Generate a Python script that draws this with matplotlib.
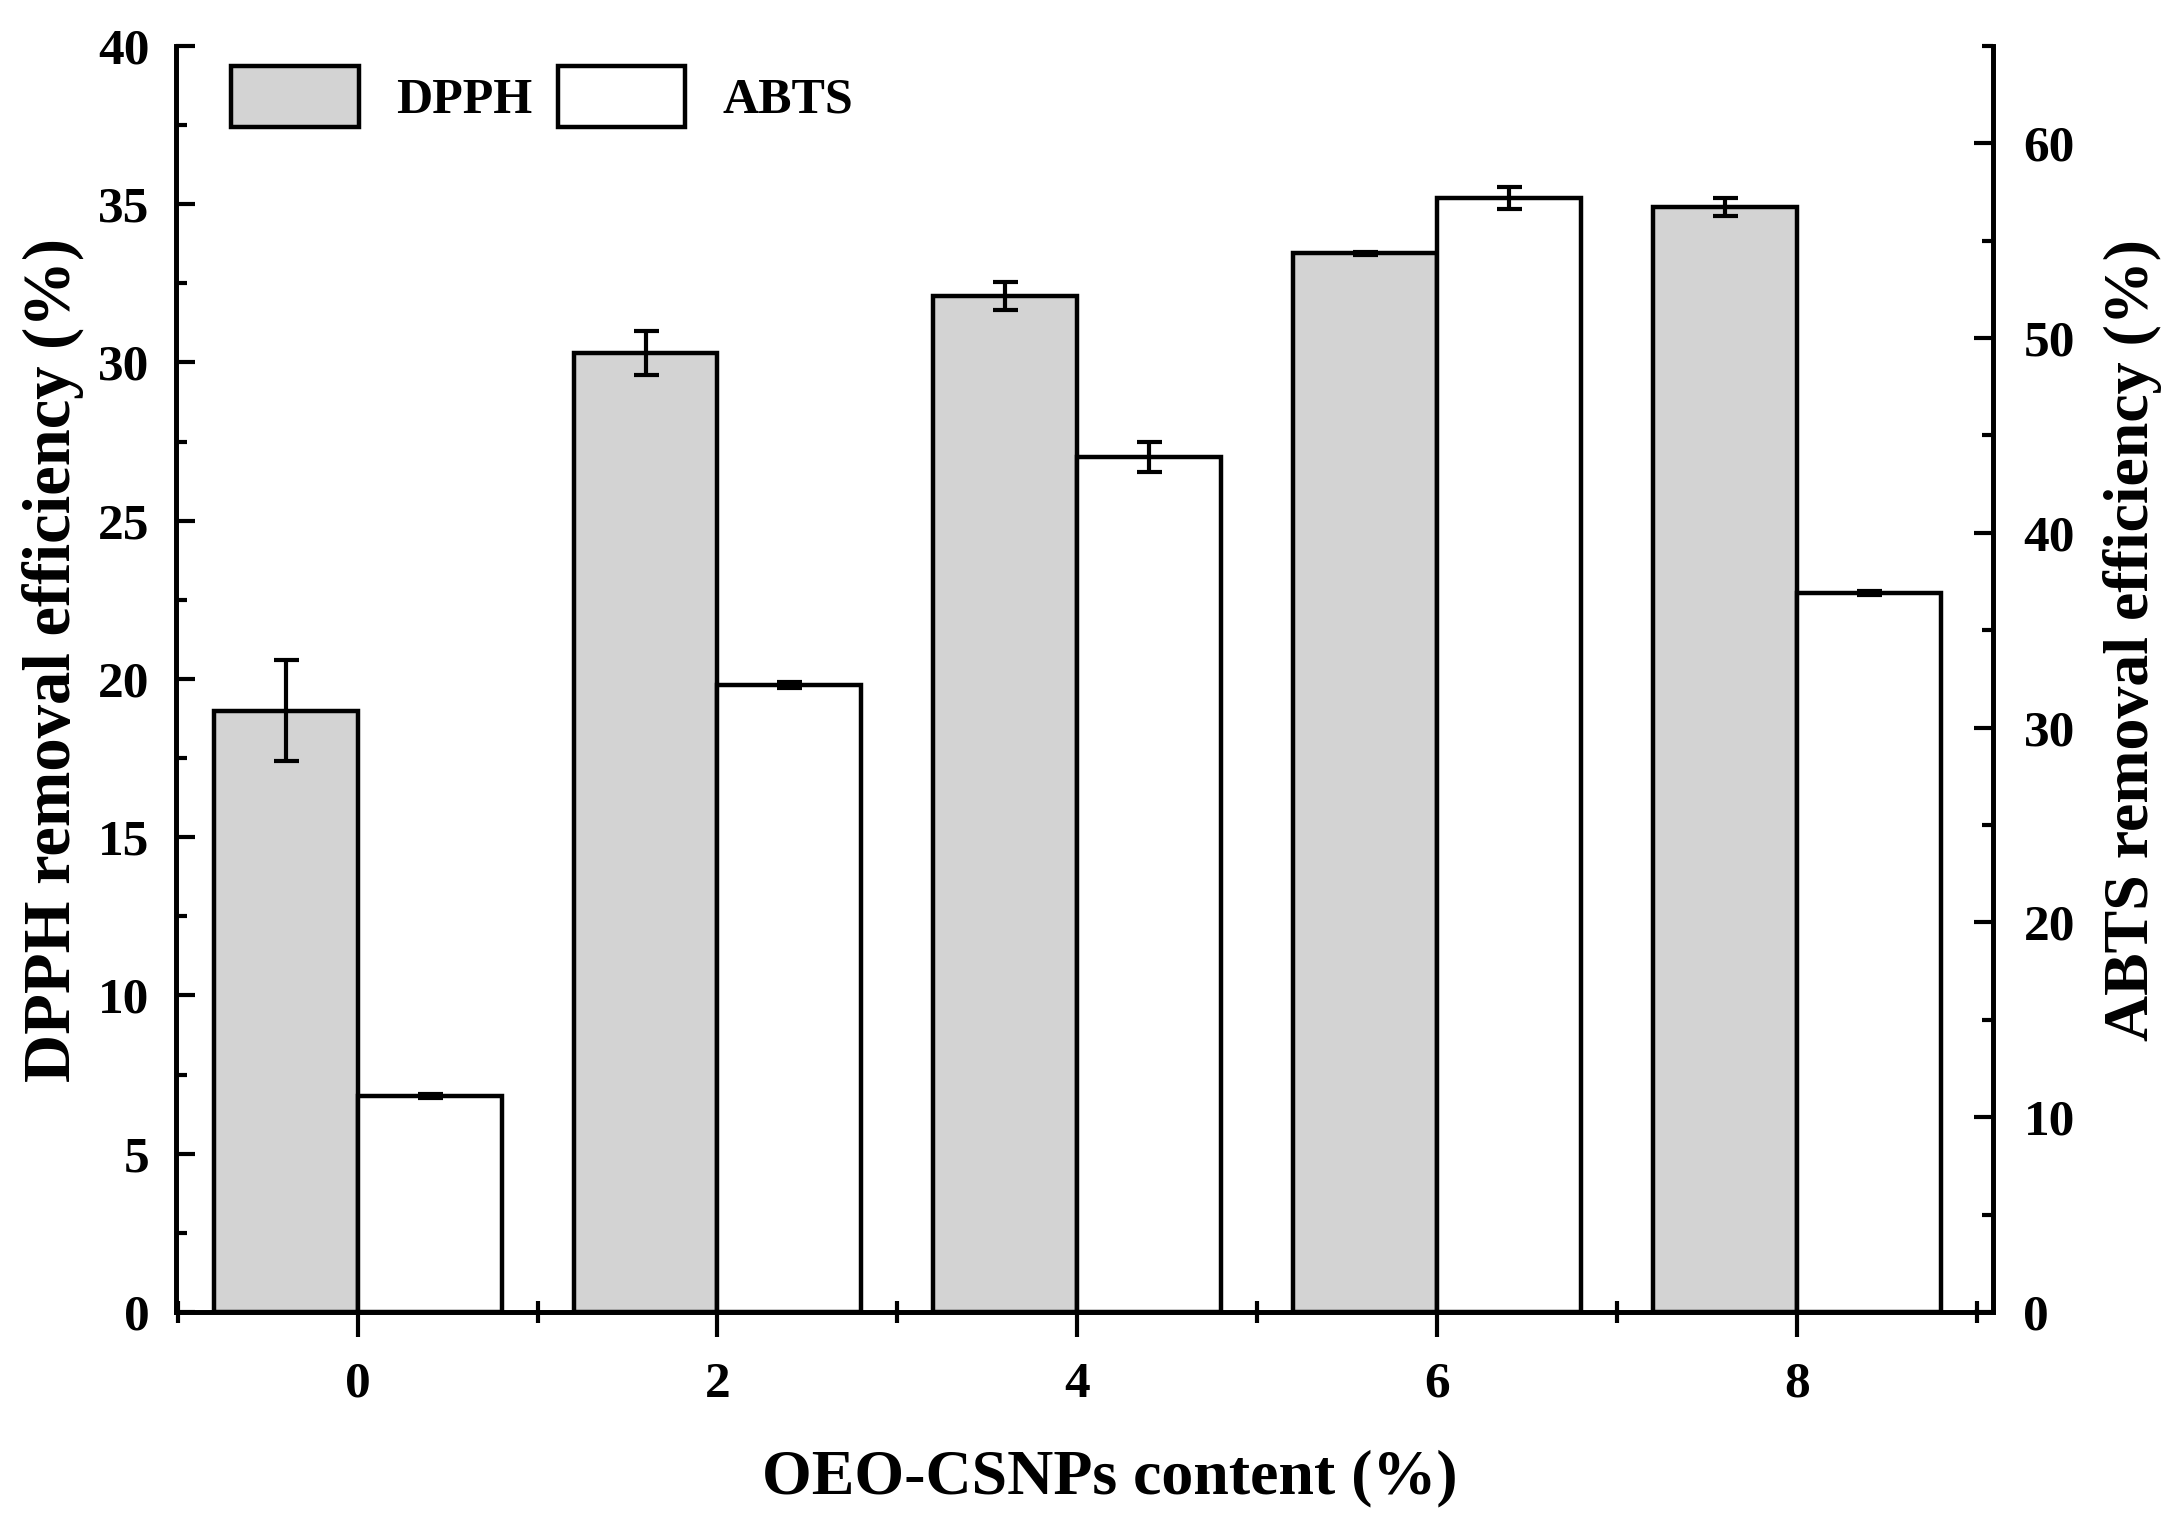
import numpy as np
import matplotlib.pyplot as plt
from matplotlib.ticker import MultipleLocator
from matplotlib.patches import Patch

plt.rcParams['font.family'] = ['Liberation Serif', 'DejaVu Serif']
plt.rcParams['font.weight'] = 'bold'

# data
content = [0, 2, 4, 6, 8]
dpph = [19.0, 30.3, 32.1, 33.45, 34.9]
dpph_err = [1.6, 0.7, 0.43, 0.05, 0.28]
abts = [11.1, 32.2, 43.9, 57.2, 36.9]
abts_err = [0.1, 0.15, 0.75, 0.55, 0.1]

x = np.array(content, dtype=float)
w = 0.8

fig = plt.figure(figsize=(21.7, 15.16), dpi=100)
ax1 = fig.add_axes([0.0811, 0.1346, 0.8373, 0.8351])
ax2 = ax1.twinx()

err_kw = dict(elinewidth=3, capthick=3, ecolor='black')
ax1.bar(x - w / 2, dpph, w, yerr=dpph_err, color='#d3d3d3', edgecolor='black',
        linewidth=3.2, capsize=9, error_kw=err_kw)
ax2.bar(x + w / 2, abts, w, yerr=abts_err, color='white', edgecolor='black',
        linewidth=3.2, capsize=9, error_kw=err_kw)

ax1.set_xlim(-1.01, 9.09)
ax1.set_ylim(0, 40)
ax2.set_ylim(0, 65)

for ax in (ax1, ax2):
    ax.spines['top'].set_visible(False)
    for s in ax.spines.values():
        s.set_linewidth(3.4)

ax1.set_xticks(content)
ax1.xaxis.set_minor_locator(MultipleLocator(1))
ax1.yaxis.set_major_locator(MultipleLocator(5))
ax1.yaxis.set_minor_locator(MultipleLocator(2.5))
ax2.yaxis.set_major_locator(MultipleLocator(10))
ax2.yaxis.set_minor_locator(MultipleLocator(5))

ax1.tick_params(axis='x', which='major', direction='out', length=18, width=3,
                labelsize=37, pad=18)
ax1.tick_params(axis='x', which='minor', direction='inout', length=16, width=3)
ax1.tick_params(axis='y', which='major', direction='in', length=14, width=3,
                labelsize=37, pad=19)
ax1.tick_params(axis='y', which='minor', direction='in', length=8, width=3)
ax2.tick_params(axis='y', which='major', direction='in', length=14, width=3,
                labelsize=37, pad=22)
ax2.tick_params(axis='y', which='minor', direction='in', length=8, width=3)

ax1.set_xlabel('OEO-CSNPs content (%)', fontsize=46, fontweight='bold', labelpad=30)
ax1.set_ylabel('DPPH removal efficiency (%)', fontsize=48, fontweight='bold', labelpad=10)
ax2.set_ylabel('ABTS removal efficiency (%)', fontsize=46, fontweight='bold', labelpad=20)
ax1.xaxis.label.set_x(0.514)
ax1.yaxis.label.set_y(0.515)
ax2.yaxis.label.set_y(0.531)

handles = [Patch(facecolor='#d3d3d3', edgecolor='black', linewidth=3.2),
           Patch(facecolor='white', edgecolor='black', linewidth=3.2)]
ax1.legend(handles, ['DPPH', 'ABTS'], loc='upper left', ncol=2, frameon=False,
           fontsize=36, handlelength=2.55, handleheight=1.5, columnspacing=0.5,
           handletextpad=0.75, bbox_to_anchor=(0.014, 1.008), borderaxespad=0.2)

fig.savefig('out.png', dpi=100)
